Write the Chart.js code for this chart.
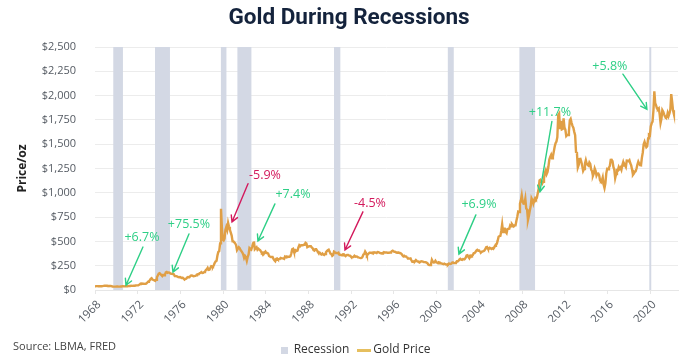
<!DOCTYPE html>
<html>
<head>
<meta charset="utf-8">
<script src="https://cdn.jsdelivr.net/npm/chart.js@4.4.1/dist/chart.umd.min.js"></script>
<style>
  html, body { margin: 0; padding: 0; background: #ffffff; }
  #wrap { width: 682px; height: 356px; position: relative; }
</style>
</head>
<body>
<div id="wrap"><canvas id="c" width="682" height="356"></canvas></div>
<script>
// ---------------- DATA ----------------
const titleText = 'Gold During Recessions';
const yAxisTitle = 'Price/oz';
const sourceText = 'Source: LBMA, FRED';
const seriesNames = ['Recession', 'Gold Price'];

// Recession periods (decimal years as drawn)
const recessionStarts = [1969.70, 1973.62, 1979.77, 1981.32, 1990.38, 2001.02, 2007.73, 2019.90];
const recessionEnds   = [1970.62, 1975.02, 1980.33, 1982.67, 1991.00, 2001.61, 2009.23, 2020.12];

// Gold price, monthly (USD/oz), first value plotted at goldStart
const goldStart = 1967.8;
const goldMonthly = [
  // 1968
  36,37,40,38,40,40,39,39,39,39,39,40,
  // 1969
  42,43,43,43,43,41,42,41,41,40,36,35,
  // 1970
  35,35,35,36,36,35,35,36,36,38,38,37,
  // 1971
  38,39,39,39,40,41,41,43,42,42,43,43,
  // 1972
  46,48,48,49,54,60,66,68,65,65,63,64,
  // 1973
  65,75,85,90,100,115,122,107,103,100,94,106,
  // 1974
  130,150,168,172,163,154,143,155,152,158,181,186,
  // 1975
  176,180,178,170,167,166,166,162,143,143,142,139,
  // 1976
  132,131,133,128,126,126,118,107,115,117,130,134,
  // 1977
  133,136,148,149,147,141,143,145,150,158,162,161,
  // 1978
  173,178,184,175,176,184,189,206,213,228,206,208,
  // 1979
  227,245,242,239,257,279,295,300,355,392,400,480,
  // 1980
  835,640,520,510,530,620,650,620,690,650,620,590,
  // 1981
  560,500,500,490,480,460,410,410,440,430,410,400,
  // 1982
  385,365,330,350,335,300,340,365,430,420,415,445,
  // 1983
  480,500,420,430,440,415,425,415,410,395,380,385,
  // 1984
  370,385,395,380,380,375,350,350,340,340,340,320,
  // 1985
  305,295,320,325,315,318,318,330,325,325,325,320,
  // 1986
  345,340,345,340,342,342,348,375,420,425,395,390,
  // 1987
  408,402,405,438,460,450,460,460,460,465,465,485,
  // 1988
  478,440,445,450,450,450,437,430,410,405,420,420,
  // 1989
  405,390,390,385,370,365,375,365,360,370,390,400,
  // 1990
  410,415,395,375,370,352,360,395,390,380,380,378,
  // 1991
  384,364,363,358,357,367,368,356,349,358,360,361,
  // 1992
  354,354,344,338,337,341,352,343,345,344,335,334,
  // 1993
  330,328,330,340,365,370,395,380,355,365,375,385,
  // 1994
  385,382,385,376,387,386,385,380,391,390,384,380,
  // 1995
  378,376,383,390,385,387,386,383,383,383,386,387,
  // 1996
  400,405,396,393,392,385,383,387,383,381,378,369,
  // 1997
  355,346,352,344,344,341,324,324,323,325,306,289,
  // 1998
  289,297,296,308,299,292,293,284,289,296,294,291,
  // 1999
  287,287,286,282,277,261,256,257,265,311,293,283,
  // 2000
  284,300,286,280,275,285,282,274,273,270,266,272,
  // 2001
  266,262,263,261,272,270,268,273,283,283,276,276,
  // 2002
  282,296,294,302,314,321,313,310,319,317,319,333,
  // 2003
  356,359,340,328,355,356,351,360,379,379,390,407,
  // 2004
  414,405,406,404,384,392,398,400,406,420,439,442,
  // 2005
  424,423,434,429,422,430,424,437,456,469,476,510,
  // 2006
  549,555,557,610,676,596,633,632,598,585,627,629,
  // 2007
  631,665,655,679,667,655,665,665,712,754,806,803,
  // 2008
  889,922,975,909,888,890,939,839,829,720,760,816,
  // 2009
  858,943,924,890,928,946,934,949,996,1043,1127,1134,
  // 2010
  1118,1095,1114,1148,1205,1232,1193,1215,1270,1343,1370,1391,
  // 2011
  1356,1372,1424,1473,1510,1528,1572,1800,1815,1665,1739,1652,
  // 2012
  1656,1765,1673,1650,1585,1596,1594,1630,1744,1760,1721,1688,
  // 2013
  1670,1627,1593,1420,1414,1260,1286,1347,1349,1316,1275,1225,
  // 2014
  1244,1300,1336,1299,1287,1279,1311,1296,1238,1222,1176,1200,
  // 2015
  1251,1227,1178,1198,1199,1181,1128,1117,1125,1159,1086,1050,
  // 2016
  1097,1200,1246,1242,1260,1276,1340,1341,1326,1266,1238,1152,
  // 2017
  1192,1234,1231,1266,1246,1260,1237,1283,1314,1280,1283,1265,
  // 2018
  1331,1330,1325,1335,1303,1282,1238,1185,1198,1215,1221,1250,
  // 2019
  1291,1320,1300,1285,1283,1359,1413,1500,1525,1495,1470,1480,
  // 2020
  1560,1597,1591,1683,1715,1732,1847,2045,1921,1900,1866,1858,
  // 2021
  1868,1808,1718,1760,1850,1834,1807,1785,1775,1777,1820,1790,
  // 2022
  1817,1856,2015,1937,1849,1810
];

// Axis ranges / ticks
const xMin = 1968, xMax = 2022.6, xStep = 4;
const yMin = 0, yMax = 2500, yStep = 250;

// Annotations: text, label position, arrow tail, arrow tip (data units: year, USD)
const annotationTexts  = ['+6.7%', '+75.5%', '-5.9%', '+7.4%', '-4.5%', '+6.9%', '+11.7%', '+5.8%'];
const annotationLabel  = [[1972.40,545],[1976.80,672],[1983.92,1176],[1986.54,983],[1993.75,886],[2003.96,876],[2010.60,1831],[2016.22,2303]];
const annotationTail   = [[1972.49,442],[1976.80,576],[1982.33,1093],[1984.85,886],[1993.09,804],[2003.67,773],[2010.79,1735],[2017.44,2221]];
const annotationTip    = [[1970.90,49],[1975.30,183],[1980.83,700],[1983.26,504],[1991.41,411],[2002.08,369],[2009.67,1011],[2019.69,1859]];

// ---------------- STYLES ----------------
const GOLD = '#e09f45';
const REC = '#d3d8e4';
const GREEN = '#2ecf86';
const RED = '#d3195c';
const TXT = '#555b63';

// ---------------- BUILD ----------------
const goldPoints = goldMonthly.map((v, i) => ({ x: goldStart + i / 12, y: v }));
const recessionPoints = [];
recessionStarts.forEach((s, i) => {
  recessionPoints.push({ x: s, y: yMax });
  recessionPoints.push({ x: recessionEnds[i], y: yMax });
  recessionPoints.push({ x: recessionEnds[i] + 0.001, y: null });
});

function makeIcon(w, h, color) {
  const c = document.createElement('canvas');
  c.width = w; c.height = h;
  const g = c.getContext('2d');
  g.fillStyle = color;
  g.fillRect(0, 0, w, h);
  return c;
}
const recIcon = makeIcon(7, 7, REC);
const goldIcon = makeIcon(14, 3, '#e6bf5e');

const annotationPlugin = {
  id: 'arrows',
  afterDatasetsDraw(chart) {
    const { ctx, scales: { x, y } } = chart;
    ctx.save();
    annotationTexts.forEach((t, i) => {
      const color = t.startsWith('-') ? RED : GREEN;
      const lx = x.getPixelForValue(annotationLabel[i][0]);
      const ly = y.getPixelForValue(annotationLabel[i][1]);
      const tx = x.getPixelForValue(annotationTail[i][0]);
      const ty = y.getPixelForValue(annotationTail[i][1]);
      const px = x.getPixelForValue(annotationTip[i][0]);
      const py = y.getPixelForValue(annotationTip[i][1]);
      ctx.strokeStyle = color;
      ctx.fillStyle = color;
      ctx.lineWidth = 1.4;
      ctx.lineCap = 'round';
      ctx.beginPath();
      ctx.moveTo(tx, ty);
      ctx.lineTo(px, py);
      const ang = Math.atan2(py - ty, px - tx);
      const hl = 7, ha = 0.5;
      ctx.moveTo(px - hl * Math.cos(ang - ha), py - hl * Math.sin(ang - ha));
      ctx.lineTo(px, py);
      ctx.lineTo(px - hl * Math.cos(ang + ha), py - hl * Math.sin(ang + ha));
      ctx.stroke();
      ctx.font = '500 12.5px "Open Sans"';
      ctx.textAlign = 'center';
      ctx.textBaseline = 'middle';
      ctx.fillText(t, lx, ly);
    });
    ctx.restore();
  }
};

const sourcePlugin = {
  id: 'source',
  afterLayout(chart) {
    if (chart.legend) {
      chart.legend.left += 17;
      chart.legend.right += 17;
      chart.legend.top += 10;
      chart.legend.bottom += 10;
    }
    if (chart.titleBlock) {
      chart.titleBlock.left += 10;
      chart.titleBlock.right += 10;
    }
  },
  afterDraw(chart) {
    const ctx = chart.ctx;
    ctx.save();
    ctx.font = '11px "Open Sans"';
    ctx.fillStyle = '#444';
    ctx.textAlign = 'left';
    ctx.textBaseline = 'middle';
    ctx.fillText(sourceText, 13, 347);
    ctx.restore();
  }
};

new Chart(document.getElementById('c'), {
  type: 'line',
  data: {
    datasets: [
      {
        label: seriesNames[0],
        data: recessionPoints,
        borderWidth: 0,
        borderColor: REC,
        backgroundColor: REC,
        pointRadius: 0,
        fill: 'origin',
        spanGaps: false,
        order: 2
      },
      {
        label: seriesNames[1],
        data: goldPoints,
        borderColor: GOLD,
        borderWidth: 2.4,
        pointRadius: 0,
        tension: 0,
        fill: false,
        order: 1
      }
    ]
  },
  options: {
    responsive: false,
    animation: false,
    layout: { padding: { left: 0, right: 4, top: 0, bottom: 0 } },
    plugins: {
      title: {
        display: true,
        text: titleText,
        color: '#14233c',
        font: { family: 'Roboto', size: 22.5, weight: 'bold' },
        padding: { top: 5, bottom: 15 }
      },
      legend: {
        position: 'bottom',
        labels: {
          usePointStyle: true,
          boxWidth: 6,
          boxHeight: 10,
          padding: 12,
          color: '#333',
          font: { family: 'Open Sans', size: 12, weight: '500' },
          generateLabels() {
            return [
              { text: seriesNames[0], pointStyle: recIcon, fillStyle: REC, strokeStyle: REC, lineWidth: 0, datasetIndex: 0, fontColor: '#333' },
              { text: seriesNames[1], pointStyle: goldIcon, fillStyle: GOLD, strokeStyle: GOLD, lineWidth: 0, datasetIndex: 1, fontColor: '#333' }
            ];
          }
        }
      },
      tooltip: { enabled: false }
    },
    scales: {
      x: {
        type: 'linear',
        min: xMin,
        max: xMax,
        afterFit(scale) { scale.height = 32; },
        border: { display: true, color: '#e6e6e6' },
        grid: { display: true, drawOnChartArea: false, drawTicks: true, tickLength: 4, color: '#e6e6e6' },
        ticks: {
          stepSize: xStep,
          includeBounds: false,
          autoSkip: false,
          maxRotation: 45,
          minRotation: 45,
          padding: 4,
          labelOffset: 4,
          color: TXT,
          font: { family: 'Open Sans', size: 11.5 },
          callback: (v) => (v % xStep === 0 ? String(v) : '')
        }
      },
      y: {
        min: yMin,
        max: yMax,
        afterFit(scale) { scale.width = 95; },
        border: { display: false },
        grid: { color: '#ececec', drawTicks: false },
        ticks: {
          stepSize: yStep,
          padding: 19,
          color: TXT,
          font: { family: 'Open Sans', size: 11 },
          callback: (v) => '$' + Number(v).toLocaleString('en-US')
        },
        title: {
          display: true,
          text: yAxisTitle,
          color: '#222',
          font: { family: 'Open Sans', size: 12, weight: 'bold' },
          padding: { top: 15, bottom: 0 }
        }
      }
    }
  },
  plugins: [annotationPlugin, sourcePlugin]
});
</script>
</body>
</html>
